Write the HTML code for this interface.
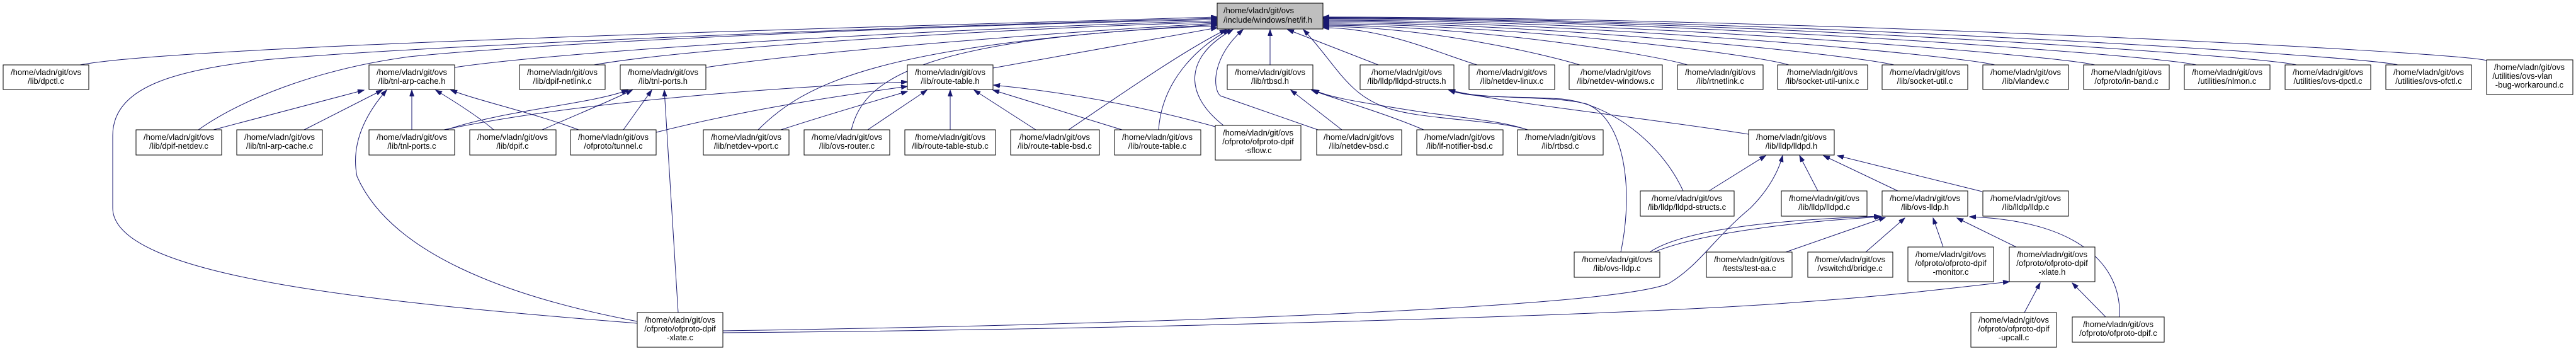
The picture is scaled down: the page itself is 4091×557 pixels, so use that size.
<!DOCTYPE html>
<html><head><meta charset="utf-8"><style>
html,body{margin:0;padding:0;background:#fff;}
svg{display:block;}
text{font-family:"Liberation Sans",Arial,sans-serif;font-size:13px;fill:#000;}
.n{fill:#fff;stroke:#000;stroke-width:1;}
.e{fill:none;stroke:#191970;stroke-width:1;marker-end:url(#a);}
</style></head><body>
<svg width="4091" height="557" viewBox="0 0 4091 557" xmlns="http://www.w3.org/2000/svg">
<defs><marker id="a" markerUnits="userSpaceOnUse" markerWidth="11" markerHeight="8" refX="10" refY="3.5" orient="auto"><path d="M0,0 L10,3.5 L0,7 z" fill="#191970" stroke="#191970"/></marker></defs>

<!-- edges to if.h left side -->
<path class="e" d="M127,103 C300,70 1500,40 1933,27"/>
<path class="e" d="M1012,513 C600,480 179,440 179,330 L179,215 C179,130 300,110 420,95 C700,70 1500,40 1933,29"/>
<path class="e" d="M315,206 C380,160 500,110 650,90 C900,65 1500,40 1933,31"/>
<path class="e" d="M722,107 C900,80 1500,45 1933,33"/>
<path class="e" d="M943,103 C1100,75 1600,45 1933,35"/>
<path class="e" d="M1121,107 C1300,80 1700,50 1933,37"/>
<path class="e" d="M1204,206 C1280,130 1400,70 1933,39"/>
<path class="e" d="M1352,206 C1370,130 1450,60 1933,41"/>
<path class="e" d="M1577,108 L1933,44"/>
<!-- edges to if.h bottom -->
<path class="e" d="M1697,206 C1780,150 1880,80 1947,47"/>
<path class="e" d="M1840,206 C1845,130 1900,75 1952,47"/>
<path class="e" d="M1943,199 C1880,150 1880,90 1958,47"/>
<path class="e" d="M2093,206 L1938,152 C1925,140 1925,90 1974,47"/>
<path class="e" d="M2017,103 L2017,47"/>
<path class="e" d="M2189,103 L2045,47"/>
<path class="e" d="M2426,206 C2380,190 2250,190 2200,170 C2140,150 2120,100 2070,47"/>
<!-- edges to if.h right side -->
<path class="e" d="M2346,103 C2286,85 2199,44 2101,44"/>
<path class="e" d="M2509,103 C2449,85 2264,42 2101,42"/>
<path class="e" d="M2680,103 C2620,85 2333,40 2101,40"/>
<path class="e" d="M2841,103 C2781,85 2397,38 2101,38"/>
<path class="e" d="M3008,103 C2948,88 2464,36 2101,36"/>
<path class="e" d="M3168,103 C3108,88 2528,34 2101,34"/>
<path class="e" d="M3327,103 C3267,88 2591,32 2101,32"/>
<path class="e" d="M3488,103 C3428,88 2656,30 2101,30"/>
<path class="e" d="M3647,103 C3587,88 2719,29 2101,29"/>
<path class="e" d="M3808,103 C3748,88 2784,28 2101,28"/>
<path class="e" d="M3949,96 C3900,82 2840,27 2101,27"/>
<!-- tnl-arp-cache.h -->
<path class="e" d="M339,206 L578,143"/>
<path class="e" d="M483,206 L607,143"/>
<path class="e" d="M654,206 L654,143"/>
<path class="e" d="M784,206 C760,185 720,160 692,143"/>
<path class="e" d="M919,206 C850,180 760,160 716,143"/>
<path class="e" d="M1012,510 C800,470 620,400 567,280 C555,220 590,170 614,143"/>
<!-- tnl-ports.h -->
<path class="e" d="M709,206 C800,175 940,165 997,143"/>
<path class="e" d="M861,206 C920,180 970,160 1004,143"/>
<path class="e" d="M990,206 L1035,143"/>
<path class="e" d="M1077,496 L1055,143"/>
<!-- route-table.h -->
<path class="e" d="M705,206 C900,165 1200,140 1441,130"/>
<path class="e" d="M1042,210 C1200,170 1350,150 1441,137"/>
<path class="e" d="M1240,206 C1320,180 1390,160 1441,145"/>
<path class="e" d="M1378,206 L1472,143"/>
<path class="e" d="M1509,206 L1509,143"/>
<path class="e" d="M1645,206 L1547,143"/>
<path class="e" d="M1782,206 L1577,143"/>
<path class="e" d="M1930,201 C1800,165 1680,145 1578,135"/>
<!-- rtbsd.h -->
<path class="e" d="M2131,206 L2050,143"/>
<path class="e" d="M2261,206 C2200,180 2130,160 2083,143"/>
<path class="e" d="M2426,206 C2380,190 2300,185 2240,175 C2160,162 2110,155 2085,142"/>
<!-- lldpd-structs.h -->
<path class="e" d="M2777,213 C2600,185 2400,165 2301,143"/>
<path class="e" d="M2673,303 C2640,230 2560,165 2480,157 C2400,152 2340,157 2301,143"/>
<path class="e" d="M2574,400 C2595,300 2580,190 2520,165 C2460,150 2360,160 2301,143"/>
<!-- lldpd.h -->
<path class="e" d="M2714,303 L2804,247"/>
<path class="e" d="M1148,525 C1800,515 2550,490 2650,450 C2700,420 2720,380 2780,330 C2810,300 2825,270 2831,247"/>
<path class="e" d="M2887,303 L2858,247"/>
<path class="e" d="M3014,303 L2896,247"/>
<path class="e" d="M3148,304 L2918,247"/>
<!-- ovs-lldp.h -->
<path class="e" d="M2627,400 C2700,370 2850,352 2988,344"/>
<path class="e" d="M2620,400 C2680,360 2850,348 2986,343"/>
<path class="e" d="M2836,400 L2994,345"/>
<path class="e" d="M2963,400 L3025,346"/>
<path class="e" d="M3086,392 L3070,346"/>
<path class="e" d="M3202,392 L3108,346"/>
<path class="e" d="M3366,503 C3370,420 3300,350 3128,344"/>
<!-- xlate.h -->
<path class="e" d="M1148,528 C1800,523 2600,500 2850,480 C3000,470 3120,455 3191,447"/>
<path class="e" d="M3215,496 L3240,449"/>
<path class="e" d="M3344,503 L3291,449"/>

<!-- nodes -->
<rect x="1933" y="5" width="168" height="41" fill="#bfbfbf" stroke="#000"/>
<text x="1943" y="21">/home/vladn/git/ovs</text><text x="1943" y="36">/include/windows/net/if.h</text>

<g text-anchor="middle">
<rect class="n" x="5" y="103" width="136" height="39"/><text x="73" y="119">/home/vladn/git/ovs</text><text x="73" y="133">/lib/dpctl.c</text>
<rect class="n" x="586" y="103" width="136" height="39"/><text x="654" y="119">/home/vladn/git/ovs</text><text x="654" y="133">/lib/tnl-arp-cache.h</text>
<rect class="n" x="825" y="103" width="136" height="39"/><text x="893" y="119">/home/vladn/git/ovs</text><text x="893" y="133">/lib/dpif-netlink.c</text>
<rect class="n" x="985" y="103" width="136" height="39"/><text x="1053" y="119">/home/vladn/git/ovs</text><text x="1053" y="133">/lib/tnl-ports.h</text>
<rect class="n" x="1441" y="103" width="136" height="39"/><text x="1509" y="119">/home/vladn/git/ovs</text><text x="1509" y="133">/lib/route-table.h</text>
<rect class="n" x="1949" y="103" width="136" height="39"/><text x="2017" y="119">/home/vladn/git/ovs</text><text x="2017" y="133">/lib/rtbsd.h</text>
<rect class="n" x="2160" y="103" width="149" height="39"/><text x="2234" y="119">/home/vladn/git/ovs</text><text x="2234" y="133">/lib/lldp/lldpd-structs.h</text>
<rect class="n" x="2333" y="103" width="136" height="39"/><text x="2401" y="119">/home/vladn/git/ovs</text><text x="2401" y="133">/lib/netdev-linux.c</text>
<rect class="n" x="2492" y="103" width="148" height="39"/><text x="2566" y="119">/home/vladn/git/ovs</text><text x="2566" y="133">/lib/netdev-windows.c</text>
<rect class="n" x="2664" y="103" width="136" height="39"/><text x="2732" y="119">/home/vladn/git/ovs</text><text x="2732" y="133">/lib/rtnetlink.c</text>
<rect class="n" x="2823" y="103" width="143" height="39"/><text x="2894" y="119">/home/vladn/git/ovs</text><text x="2894" y="133">/lib/socket-util-unix.c</text>
<rect class="n" x="2989" y="103" width="136" height="39"/><text x="3057" y="119">/home/vladn/git/ovs</text><text x="3057" y="133">/lib/socket-util.c</text>
<rect class="n" x="3149" y="103" width="136" height="39"/><text x="3217" y="119">/home/vladn/git/ovs</text><text x="3217" y="133">/lib/vlandev.c</text>
<rect class="n" x="3309" y="103" width="136" height="39"/><text x="3377" y="119">/home/vladn/git/ovs</text><text x="3377" y="133">/ofproto/in-band.c</text>
<rect class="n" x="3469" y="103" width="136" height="39"/><text x="3537" y="119">/home/vladn/git/ovs</text><text x="3537" y="133">/utilities/nlmon.c</text>
<rect class="n" x="3629" y="103" width="136" height="39"/><text x="3697" y="119">/home/vladn/git/ovs</text><text x="3697" y="133">/utilities/ovs-dpctl.c</text>
<rect class="n" x="3789" y="103" width="136" height="39"/><text x="3857" y="119">/home/vladn/git/ovs</text><text x="3857" y="133">/utilities/ovs-ofctl.c</text>
<rect class="n" x="3949" y="95" width="137" height="55"/><text x="4017" y="111">/home/vladn/git/ovs</text><text x="4006" y="125">/utilities/ovs-vlan</text><text x="4017" y="139">-bug-workaround.c</text>

<rect class="n" x="216" y="206" width="136" height="40"/><text x="284" y="222">/home/vladn/git/ovs</text><text x="284" y="236">/lib/dpif-netdev.c</text>
<rect class="n" x="376" y="206" width="136" height="40"/><text x="444" y="222">/home/vladn/git/ovs</text><text x="444" y="236">/lib/tnl-arp-cache.c</text>
<rect class="n" x="586" y="206" width="136" height="40"/><text x="654" y="222">/home/vladn/git/ovs</text><text x="654" y="236">/lib/tnl-ports.c</text>
<rect class="n" x="746" y="206" width="137" height="40"/><text x="814" y="222">/home/vladn/git/ovs</text><text x="814" y="236">/lib/dpif.c</text>
<rect class="n" x="906" y="206" width="136" height="40"/><text x="974" y="222">/home/vladn/git/ovs</text><text x="974" y="236">/ofproto/tunnel.c</text>
<rect class="n" x="1117" y="206" width="136" height="40"/><text x="1185" y="222">/home/vladn/git/ovs</text><text x="1185" y="236">/lib/netdev-vport.c</text>
<rect class="n" x="1277" y="206" width="136" height="40"/><text x="1345" y="222">/home/vladn/git/ovs</text><text x="1345" y="236">/lib/ovs-router.c</text>
<rect class="n" x="1437" y="206" width="144" height="40"/><text x="1509" y="222">/home/vladn/git/ovs</text><text x="1509" y="236">/lib/route-table-stub.c</text>
<rect class="n" x="1605" y="206" width="141" height="40"/><text x="1675" y="222">/home/vladn/git/ovs</text><text x="1675" y="236">/lib/route-table-bsd.c</text>
<rect class="n" x="1770" y="206" width="137" height="40"/><text x="1838" y="222">/home/vladn/git/ovs</text><text x="1838" y="236">/lib/route-table.c</text>
<rect class="n" x="1930" y="199" width="136" height="55"/><text x="1998" y="215">/home/vladn/git/ovs</text><text x="1998" y="229">/ofproto/ofproto-dpif</text><text x="1998" y="243">-sflow.c</text>
<rect class="n" x="2091" y="206" width="135" height="40"/><text x="2158" y="222">/home/vladn/git/ovs</text><text x="2158" y="236">/lib/netdev-bsd.c</text>
<rect class="n" x="2250" y="206" width="137" height="40"/><text x="2318" y="222">/home/vladn/git/ovs</text><text x="2318" y="236">/lib/if-notifier-bsd.c</text>
<rect class="n" x="2410" y="206" width="136" height="40"/><text x="2478" y="222">/home/vladn/git/ovs</text><text x="2478" y="236">/lib/rtbsd.c</text>
<rect class="n" x="2777" y="206" width="136" height="40"/><text x="2845" y="222">/home/vladn/git/ovs</text><text x="2845" y="236">/lib/lldp/lldpd.h</text>

<rect class="n" x="2605" y="303" width="149" height="40"/><text x="2679" y="319">/home/vladn/git/ovs</text><text x="2679" y="333">/lib/lldp/lldpd-structs.c</text>
<rect class="n" x="2829" y="303" width="136" height="40"/><text x="2897" y="319">/home/vladn/git/ovs</text><text x="2897" y="333">/lib/lldp/lldpd.c</text>
<rect class="n" x="2989" y="303" width="136" height="40"/><text x="3057" y="319">/home/vladn/git/ovs</text><text x="3057" y="333">/lib/ovs-lldp.h</text>
<rect class="n" x="3149" y="303" width="136" height="40"/><text x="3217" y="319">/home/vladn/git/ovs</text><text x="3217" y="333">/lib/lldp/lldp.c</text>

<rect class="n" x="2500" y="400" width="136" height="40"/><text x="2568" y="416">/home/vladn/git/ovs</text><text x="2568" y="430">/lib/ovs-lldp.c</text>
<rect class="n" x="2710" y="400" width="136" height="40"/><text x="2778" y="416">/home/vladn/git/ovs</text><text x="2778" y="430">/tests/test-aa.c</text>
<rect class="n" x="2871" y="400" width="135" height="40"/><text x="2938" y="416">/home/vladn/git/ovs</text><text x="2938" y="430">/vswitchd/bridge.c</text>
<rect class="n" x="3030" y="392" width="136" height="55"/><text x="3098" y="408">/home/vladn/git/ovs</text><text x="3098" y="422">/ofproto/ofproto-dpif</text><text x="3098" y="436">-monitor.c</text>
<rect class="n" x="3191" y="392" width="136" height="55"/><text x="3259" y="408">/home/vladn/git/ovs</text><text x="3259" y="422">/ofproto/ofproto-dpif</text><text x="3259" y="436">-xlate.h</text>

<rect class="n" x="1012" y="496" width="136" height="55"/><text x="1080" y="512">/home/vladn/git/ovs</text><text x="1080" y="526">/ofproto/ofproto-dpif</text><text x="1080" y="540">-xlate.c</text>
<rect class="n" x="3130" y="496" width="136" height="55"/><text x="3198" y="512">/home/vladn/git/ovs</text><text x="3198" y="526">/ofproto/ofproto-dpif</text><text x="3198" y="540">-upcall.c</text>
<rect class="n" x="3291" y="503" width="146" height="40"/><text x="3364" y="519">/home/vladn/git/ovs</text><text x="3364" y="533">/ofproto/ofproto-dpif.c</text>
</g>
</svg>
</body></html>
